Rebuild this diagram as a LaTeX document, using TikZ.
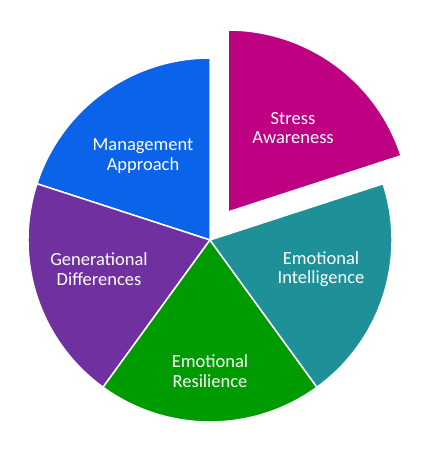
\documentclass[tikz,border=0pt]{standalone}
\usepackage{fontspec}
\setmainfont{Carlito}

\definecolor{mgmtblue}{RGB}{11,99,234}
\definecolor{genpurple}{RGB}{112,48,160}
\definecolor{resgreen}{RGB}{0,155,0}
\definecolor{intteal}{RGB}{30,145,152}
\definecolor{stressmagenta}{RGB}{190,0,130}

\begin{document}
\begin{tikzpicture}[x=1pt, y=1pt,
    every node/.style={text=white, align=center, font=\fontsize{18.5}{19.5}\selectfont},
    slice/.style={draw=white, line width=1.5pt}]
      \useasboundingbox (-210,-225) rectangle (223,240);

      % Slices of the pie
      \path[slice, fill=mgmtblue] (0,0) -- (90:182) arc[start angle=90, end angle=162, radius=182] -- cycle;
      \path[slice, fill=genpurple] (0,0) -- (162:182) arc[start angle=162, end angle=234, radius=182] -- cycle;
      \path[slice, fill=resgreen] (0,0) -- (234:182) arc[start angle=234, end angle=306, radius=182] -- cycle;
      \path[slice, fill=intteal] (0,0) -- (306:182) arc[start angle=306, end angle=378, radius=182] -- cycle;

      % Pulled-out slice
      \path[slice, fill=stressmagenta, shift={(18,28)}] (0,0) -- (18:182) arc[start angle=18, end angle=90, radius=182] -- cycle;

      % Labels
      \node (stress) at (83,112) {Stress\\Awareness};
      \node (mgmt) at (-67,84) {Management\\Approach};
      \node (gen) at (-111,-29) {Generational\\Differences};
      \node (intel) at (111,-29) {Emotional\\Intelligence};
      \node (resil) at (0,-131) {Emotional\\Resilience};
    \end{tikzpicture}
\end{document}
